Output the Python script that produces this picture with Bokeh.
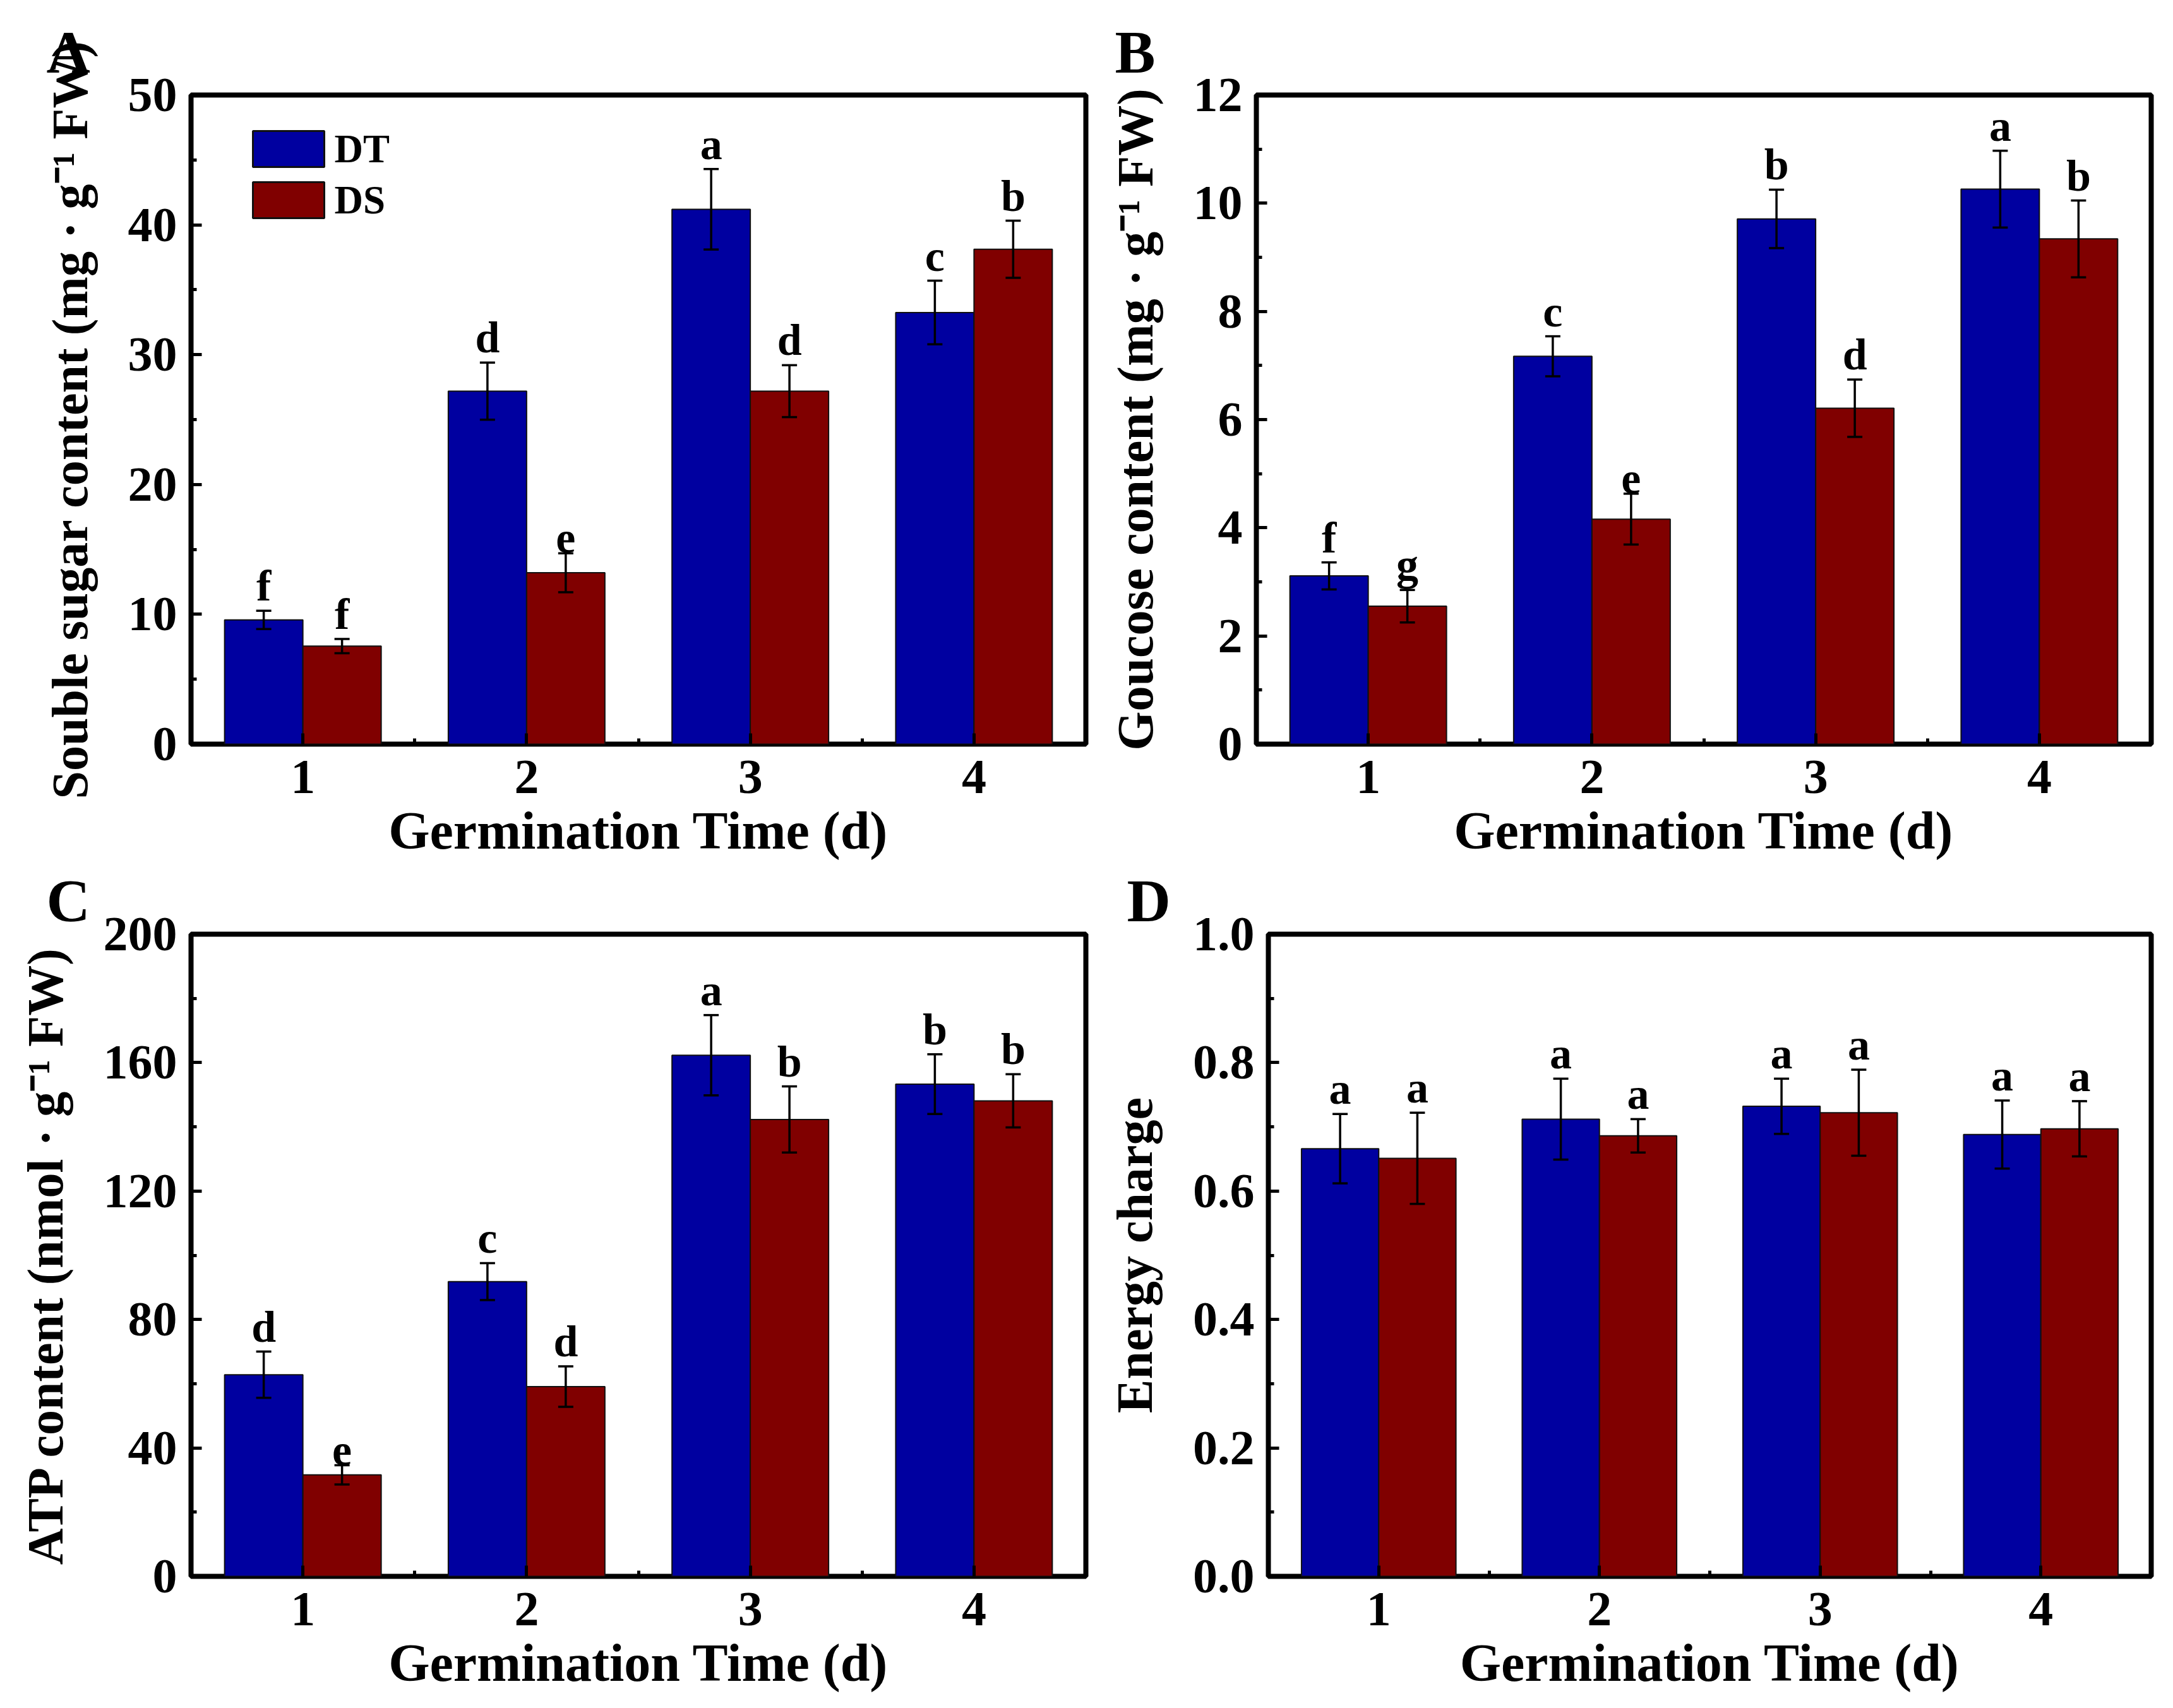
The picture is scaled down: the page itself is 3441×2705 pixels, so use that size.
from bokeh.plotting import figure
from bokeh.models import (Range1d, FixedTicker, SingleIntervalTicker, ColumnDataSource,
                          PrintfTickFormatter)
from bokeh.layouts import column, row
from bokeh.embed import file_html
from bokeh.resources import INLINE
from bokeh.core.properties import value

# ---------------- data ----------------
days = [1, 2, 3, 4]
x_tick_labels = ["1", "2", "3", "4"]
series_names = ["DT", "DS"]
series_colors = ["#0000A0", "#800000"]

# A: soluble sugar content (mg g-1 FW)
sugar_dt = [9.57, 27.19, 41.2, 33.25]
sugar_dt_err = [0.7, 2.2, 3.1, 2.45]
sugar_ds = [7.55, 13.2, 27.19, 38.12]
sugar_ds_err = [0.55, 1.5, 2.0, 2.2]
sugar_dt_letters = ["f", "d", "a", "c"]
sugar_ds_letters = ["f", "e", "d", "b"]

# B: glucose content (mg g-1 FW)
glucose_dt = [3.11, 7.17, 9.71, 10.26]
glucose_dt_err = [0.25, 0.37, 0.54, 0.71]
glucose_ds = [2.55, 4.16, 6.21, 9.34]
glucose_ds_err = [0.30, 0.47, 0.53, 0.71]
glucose_dt_letters = ["f", "c", "b", "a"]
glucose_ds_letters = ["g", "e", "d", "b"]

# C: ATP content (nmol g-1 FW)
atp_dt = [62.8, 91.8, 162.3, 153.3]
atp_dt_err = [7.2, 5.75, 12.5, 9.3]
atp_ds = [31.6, 59.1, 142.3, 148.1]
atp_ds_err = [3.0, 6.3, 10.3, 8.3]
atp_dt_letters = ["d", "c", "a", "b"]
atp_ds_letters = ["e", "d", "b", "b"]

# D: energy charge
ec_dt = [0.666, 0.712, 0.732, 0.688]
ec_dt_err = [0.054, 0.063, 0.043, 0.053]
ec_ds = [0.651, 0.686, 0.722, 0.697]
ec_ds_err = [0.071, 0.026, 0.067, 0.043]
ec_dt_letters = ["a", "a", "a", "a"]
ec_ds_letters = ["a", "a", "a", "a"]

FONT = "Liberation Serif"
FRAME_W = 1417
BAR_W = 0.35
X0, X1 = 0.5, 4.5


def make_panel(tag, dt, dt_err, ds, ds_err, dt_let, ds_let, ymax, yint, ylabel, fmt,
               border_left, border_right, border_top, border_bottom, total_h,
               tag_dx, tag_standoff, legend=False):
    frame_h = total_h - border_top - border_bottom
    p = figure(output_backend="svg", toolbar_location=None,
               width=border_left + FRAME_W + border_right, height=total_h,
               min_border_left=border_left, min_border_right=border_right,
               min_border_top=border_top, min_border_bottom=border_bottom,
               x_range=Range1d(X0, X1), y_range=Range1d(0, ymax))
    p.background_fill_color = "white"
    p.border_fill_color = "white"
    p.outline_line_color = "black"
    p.outline_line_width = 8
    p.grid.visible = False

    # panel tag as the plot title
    p.title.text = tag
    p.title.align = "left"
    p.title.offset = -tag_dx
    p.title.standoff = tag_standoff
    p.title.text_font = FONT
    p.title.text_font_style = "bold"
    p.title.text_font_size = "96px"
    p.title.text_color = "black"

    src = ColumnDataSource(dict(
        x_dt=[d - BAR_W / 2 for d in days], x_ds=[d + BAR_W / 2 for d in days],
        dt=dt, ds=ds,
        dt_up=[v + e for v, e in zip(dt, dt_err)], dt_lo=[v - e for v, e in zip(dt, dt_err)],
        ds_up=[v + e for v, e in zip(ds, ds_err)], ds_lo=[v - e for v, e in zip(ds, ds_err)],
        dt_let=dt_let, ds_let=ds_let))

    for key, col in (("dt", series_colors[0]), ("ds", series_colors[1])):
        p.vbar(x="x_" + key, top=key, width=BAR_W, bottom=0, source=src,
               fill_color=col, line_color="#111111", line_width=2)
    for key in ("dt", "ds"):
        # error bars: stem + caps
        p.segment(x0="x_" + key, y0=key + "_lo", x1="x_" + key, y1=key + "_up", source=src,
                  line_color="black", line_width=3.5)
        for end in ("_up", "_lo"):
            p.scatter(x="x_" + key, y=key + end, source=src, marker="dash", size=24,
                      line_color="black", line_width=3.5)
        p.text(x="x_" + key, y=key + "_up", text=key + "_let", source=src,
               text_font=value(FONT), text_font_style="bold", text_font_size="70px",
               text_align="center", text_baseline="bottom", text_color="black", y_offset=-1)

    # axes
    xa = p.xaxis[0]
    xa.ticker = FixedTicker(ticks=days, minor_ticks=[1.5, 2.5, 3.5])
    xa.major_label_overrides = {d: lab for d, lab in zip(days, x_tick_labels)}
    xa.axis_label = "Germination Time (d)"
    ya = p.yaxis[0]
    ya.ticker = SingleIntervalTicker(interval=yint, num_minor_ticks=2)
    ya.formatter = PrintfTickFormatter(format=fmt)
    ya.axis_label = ylabel
    for ax in (xa, ya):
        ax.axis_line_color = None
        ax.major_tick_in = 17
        ax.major_tick_out = 0
        ax.minor_tick_in = 9
        ax.minor_tick_out = 0
        ax.major_tick_line_width = 5
        ax.minor_tick_line_width = 5
        ax.major_tick_line_color = "black"
        ax.minor_tick_line_color = "black"
        ax.major_label_text_font = FONT
        ax.major_label_text_font_style = "bold"
        ax.major_label_text_font_size = "78px"
        ax.major_label_text_color = "black"
        ax.axis_label_text_font = FONT
        ax.axis_label_text_font_style = "bold"
        ax.axis_label_text_color = "black"
    xa.axis_label_text_font_size = "84px"
    ya.axis_label_text_font_size = "80px"
    xa.major_label_standoff = 26
    xa.axis_label_standoff = 10
    ya.major_label_standoff = 22
    ya.axis_label_standoff = 45

    if legend:
        # legend drawn inside the frame: swatches 113x57 px, top-left corner
        px_x = FRAME_W / (X1 - X0)
        px_y = frame_h / ymax
        leg = ColumnDataSource(dict(
            x=[X0 + (98 + 56.5) / px_x] * 2,
            tx=[X0 + (98 + 113 + 16) / px_x] * 2,
            y=[ymax - (57 + 28.5) / px_y, ymax - (138 + 28.5) / px_y],
            name=series_names, color=series_colors))
        p.rect(x="x", y="y", width=113, height=57, width_units="screen",
               height_units="screen", fill_color="color", line_color="#111111",
               line_width=3, source=leg)
        p.text(x="tx", y="y", text="name", source=leg, text_font=value(FONT),
               text_font_style="bold", text_font_size="63px", text_align="left",
               text_baseline="middle", text_color="black")
    return p


ROW1_H = 1370
ROW2_H = 1318

pA = make_panel("A", sugar_dt, sugar_dt_err, sugar_ds, sugar_ds_err,
                sugar_dt_letters, sugar_ds_letters, 50, 10,
                "Souble sugar content (mg \u00b7 g\u207b\u00b9 FW)", "%d",
                302, 30, 150, 192, ROW1_H, 229, 30, legend=True)
pB = make_panel("B", glucose_dt, glucose_dt_err, glucose_ds, glucose_ds_err,
                glucose_dt_letters, glucose_ds_letters, 12, 2,
                "Goucose content (mg \u00b7 g\u207b\u00b9 FW)", "%d",
                240, 12, 150, 192, ROW1_H, 224, 30)
pC = make_panel("C", atp_dt, atp_dt_err, atp_ds, atp_ds_err,
                atp_dt_letters, atp_ds_letters, 200, 40,
                "ATP content (nmol \u00b7 g\u207b\u00b9 FW)", "%d",
                302, 30, 100, 192, ROW2_H, 229, 0)
pD = make_panel("D", ec_dt, ec_dt_err, ec_ds, ec_ds_err,
                ec_dt_letters, ec_ds_letters, 1.0, 0.2,
                "Energy charge", "%.1f",
                240, 12, 100, 192, ROW2_H, 224, 0)

layout = column(row(pA, pB, spacing=0), row(pC, pD, spacing=0), spacing=0)

open("out.html", "w").write(file_html(layout, INLINE))
